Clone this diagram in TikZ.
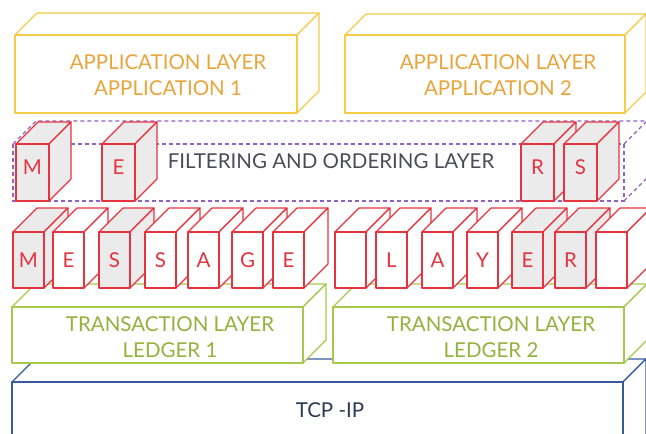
\documentclass[tikz,border=0pt]{standalone}
\usepackage{fontspec}
\setmainfont{Lato}
\definecolor{appline}{HTML}{F5CB4A}
\definecolor{apptext}{HTML}{E8A53C}
\definecolor{msgred}{HTML}{E5343F}
\definecolor{cubegray}{HTML}{EBEBEB}
\definecolor{txline}{HTML}{A6C84C}
\definecolor{txtext}{HTML}{93B23E}
\definecolor{netline}{HTML}{3A5A9E}
\definecolor{nettext}{HTML}{2C3A56}
\definecolor{filtline}{HTML}{8E62C2}
\definecolor{filttext}{HTML}{4C4B5C}
% front face from (#2,#3) to (#4,#5), depth #6, style #1
\newcommand\boxthreed[6]{%
  \filldraw[#1] (#2,#3) -- ++(#6,-#6) -- ++(#4-#2,0) -- (#4,#3) -- cycle;
  \filldraw[#1] (#4,#3) -- ++(#6,-#6) -- ++(0,#5-#3) -- (#4,#5) -- cycle;
  \filldraw[#1] (#2,#3) rectangle (#4,#5);}
\begin{document}
\begin{tikzpicture}[x=1pt,y=-1pt,
  lbl/.style={font=\fontsize{20.5}{26}\selectfont, align=center, inner sep=0pt},
  appbox/.style={draw=appline, fill=white, line width=1.3pt, line join=round},
  txbox/.style={draw=txline, fill=white, line width=1.3pt, line join=round},
  netbox/.style={draw=netline, fill=white, line width=1.3pt, line join=round},
  cubew/.style={draw=msgred, fill=white, line width=1.1pt, line join=round},
  cubeg/.style={draw=msgred, fill=cubegray, line width=1.1pt, line join=round},
  filt/.style={draw=filtline, line width=1.1pt, dash pattern=on 4pt off 3pt},
  letter/.style={lbl, text=msgred}]
\useasboundingbox (0,0) rectangle (646,434);
\clip (0,0) rectangle (646,434);

% network layer
\boxthreed{netbox}{12}{382}{623}{470}{23}
\node[lbl, text=nettext] (tcp) at (330,410) {TCP -IP};

% transaction layer
\boxthreed{txbox}{12}{307}{303}{363}{23}
\boxthreed{txbox}{333}{307}{624}{363}{23}
\node[lbl, text=txtext] (tx1) at (170,337) {TRANSACTION LAYER\\LEDGER 1};
\node[lbl, text=txtext] (tx2) at (491,337) {TRANSACTION LAYER\\LEDGER 2};

% message layer cubes
\foreach \x/\c/\t [count=\i] in {13/cubeg/M, 53/cubew/E, 99/cubeg/S, 145/cubew/S,
    188/cubew/A, 232/cubew/G, 273/cubew/E, 335/cubew/{}, 376/cubew/L, 422/cubew/A,
    467/cubew/Y, 512/cubeg/E, 555/cubeg/R, 596/cubew/{}} {
  \boxthreed{\c}{\x}{232}{\x+31}{288}{24}
  \node[letter] (m\i) at (\x+15.5,260) {\t};
}

% filtering and ordering layer
\draw[filt] (13,144) rectangle (624,201);
\draw[filt] (13,144) -- (36,121) -- (646,121);
\draw[filt] (624,144) -- (646,122);
\draw[filt] (624,201) -- (646,179);
\node[lbl, text=filttext] (filter) at (331,161) {FILTERING AND ORDERING LAYER};
\foreach \x/\t [count=\i] in {16/M, 102/E, 521/R, 564/S} {
  \boxthreed{cubeg}{\x}{144}{\x+33}{201}{22}
  \node[letter] (f\i) at (\x+16.5,167) {\t};
}

% application layer
\boxthreed{appbox}{15}{35}{297}{113}{22}
\boxthreed{appbox}{345}{35}{625}{113}{21}
\node[lbl, text=apptext] (app1) at (168,75) {APPLICATION LAYER\\APPLICATION 1};
\node[lbl, text=apptext] (app2) at (498,75) {APPLICATION LAYER\\APPLICATION 2};
\end{tikzpicture}
\end{document}
